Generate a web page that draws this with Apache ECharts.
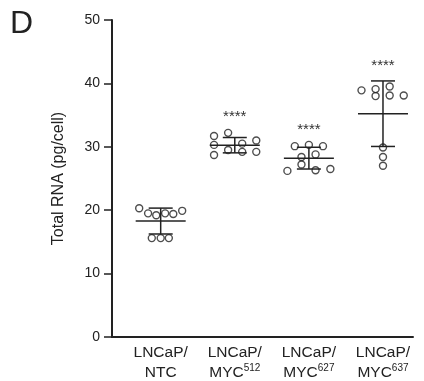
<!DOCTYPE html>
<html>
<head>
<meta charset="utf-8">
<script src="https://cdn.jsdelivr.net/npm/echarts@6/dist/echarts.min.js"></script>
<style>
  html, body { margin: 0; padding: 0; background: #fff; }
  #chart { width: 424px; height: 381px; }
</style>
</head>
<body>
<div id="chart"></div>
<script>
// groups shown on the x axis
const groupNames = ['NTC', 'MYC', 'MYC', 'MYC']
const groupSups = ['', '512', '627', '637']

// y axis ticks
const yTicks = [0, 10, 20, 30, 40, 50]

// total RNA (pg/cell), one array per group
const ntcValues = [20.3, 19.5, 19.2, 19.5, 19.4, 19.9, 15.6, 15.6, 15.6]
const myc512Values = [31.7, 30.3, 28.7, 32.2, 29.5, 30.5, 29.2, 31.0, 29.2]
const myc627Values = [30.1, 30.3, 30.1, 28.4, 28.8, 27.2, 26.2, 26.3, 26.5]
const myc637Values = [38.9, 39.1, 38.0, 39.5, 38.1, 38.1, 29.9, 28.4, 27.0]

// horizontal spread of the points inside each group (category units)
const ntcJitter = [-0.29, -0.17, -0.06, 0.06, 0.17, 0.29, -0.12, 0, 0.11]
const myc512Jitter = [-0.28, -0.28, -0.28, -0.09, -0.09, 0.1, 0.1, 0.29, 0.29]
const myc627Jitter = [-0.19, 0, 0.19, -0.1, 0.09, -0.1, -0.29, 0.09, 0.29]
const myc637Jitter = [-0.29, -0.1, -0.1, 0.09, 0.09, 0.28, 0, 0, 0]

// significance marks
const stars = ['', '****', '****', '****']

const allValues = [ntcValues, myc512Values, myc627Values, myc637Values]
const allJitter = [ntcJitter, myc512Jitter, myc627Jitter, myc637Jitter]

const font = 'Liberation Sans, Arial, Helvetica, sans-serif'
const ink = '#222'

const pointData = []
allValues.forEach(function(vals, g) {
  vals.forEach(function(v, i) {
    pointData.push([g + allJitter[g][i], v])
  })
})

const statData = allValues.map(function(vals, g) {
  const n = vals.length
  const mean = vals.reduce(function(a, b) { return a + b }, 0) / n
  const sd = Math.sqrt(vals.reduce(function(a, b) { return a + (b - mean) * (b - mean) }, 0) / (n - 1))
  const top = Math.max(mean + sd, Math.max.apply(null, vals))
  return [g, mean, sd, top]
})

const chart = echarts.init(document.getElementById('chart'))

chart.setOption({
  animation: false,
  textStyle: { fontFamily: font },
  graphic: [
    {
      type: 'text',
      left: 10,
      top: 8,
      style: { text: 'D', font: '32px ' + font, fill: ink }
    }
  ],
  grid: {
    left: 112,
    right: 11,
    top: 20,
    bottom: 43
  },
  xAxis: {
    type: 'value',
    min: -0.657,
    max: 3.405,
    splitLine: { show: false },
    axisTick: { show: false },
    axisLine: { show: true, onZero: false, lineStyle: { color: ink, width: 2 } },
    axisLabel: {
      customValues: [0, 1, 2, 3],
      margin: 6,
      formatter: function(v) {
        const g = Math.round(v)
        return '{a|LNCaP/}\n{a|' + groupNames[g] + '}' + (groupSups[g] ? '{s|' + groupSups[g] + '}' : '')
      },
      rich: {
        a: { fontSize: 15.5, color: ink, lineHeight: 20, fontFamily: font },
        s: { fontSize: 10, color: ink, verticalAlign: 'top', lineHeight: 20, padding: [0, 0, 6, 0], fontFamily: font }
      }
    }
  },
  yAxis: {
    type: 'value',
    min: yTicks[0],
    max: yTicks[yTicks.length - 1],
    interval: yTicks[1] - yTicks[0],
    name: 'Total RNA (pg/cell)',
    nameLocation: 'middle',
    nameGap: 45,
    nameTextStyle: { fontSize: 16, color: ink, fontFamily: font },
    splitLine: { show: false },
    axisLine: { show: true, onZero: false, lineStyle: { color: ink, width: 2 } },
    axisTick: { show: true, length: 8, lineStyle: { color: ink, width: 1.5 } },
    axisLabel: { fontSize: 14, color: ink, margin: 12, fontFamily: font }
  },
  series: [
    {
      type: 'custom',
      data: statData,
      z: 2,
      renderItem: function(params, api) {
        const x = api.value(0)
        const m = api.value(1)
        const s = api.value(2)
        const c = api.coord([x, m])
        const t = api.coord([x, m + s])
        const b = api.coord([x, m - s])
        const top = api.coord([x, api.value(3)])
        const line = { stroke: ink, lineWidth: 1.5 }
        const children = [
          { type: 'line', shape: { x1: c[0] - 25, y1: c[1], x2: c[0] + 25, y2: c[1] }, style: line },
          { type: 'line', shape: { x1: t[0], y1: t[1], x2: b[0], y2: b[1] }, style: line },
          { type: 'line', shape: { x1: t[0] - 12, y1: t[1], x2: t[0] + 12, y2: t[1] }, style: line },
          { type: 'line', shape: { x1: b[0] - 12, y1: b[1], x2: b[0] + 12, y2: b[1] }, style: line }
        ]
        const star = stars[params.dataIndex]
        if (star) {
          children.push({
            type: 'text',
            x: c[0],
            y: top[1] - 8,
            style: {
              text: star,
              font: '15px ' + font,
              fill: '#333',
              align: 'center',
              verticalAlign: 'bottom'
            }
          })
        }
        return { type: 'group', children: children }
      }
    },
    {
      type: 'scatter',
      data: pointData,
      z: 3,
      symbol: 'circle',
      symbolSize: 7,
      itemStyle: {
        color: 'rgba(0,0,0,0)',
        borderColor: ink,
        borderWidth: 1.4
      }
    }
  ]
})
</script>
</body>
</html>
